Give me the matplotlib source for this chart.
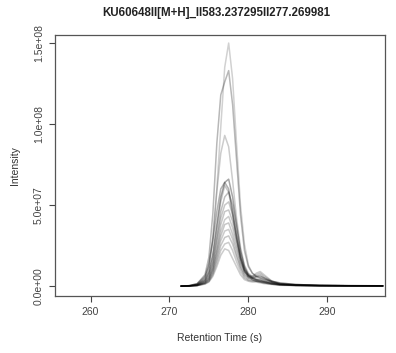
import matplotlib.pyplot as plt
import numpy as np

plt.rcParams['font.family'] = ['Liberation Sans', 'DejaVu Sans']

title = 'KU60648II[M+H]_II583.237295II277.269981'

# retention time grid (s)
rt = [271.5, 272.5, 273.5, 274.5, 275.0, 275.5, 276.0, 276.5, 277.0, 277.5,
      278.0, 278.5, 279.0, 279.5, 280.0, 280.5, 281.0, 281.5, 282.0, 283.0,
      284.0, 286.0, 289.0, 293.0, 297.0]

# intensities of each sample trace, in units of 1e6
traces = [
    [0, 0.2, 1, 5, 12, 30, 60, 98, 135, 150, 128, 88, 50, 26, 13, 8, 6, 6, 5, 3, 2, 1, 0.5, 0.3, 0.2],
    [0, 0.3, 1.5, 7, 18, 45, 88, 118, 126, 133, 112, 78, 44, 22, 12, 8, 6, 5, 4, 3, 2, 1, 0.5, 0.3, 0.2],
    [0, 0.2, 1, 5, 12, 30, 58, 82, 93, 86, 65, 42, 24, 13, 8, 6, 5, 5, 4, 2.5, 1.5, 1, 0.5, 0.3, 0.2],
    [0, 0.2, 1, 4, 9, 20, 38, 55, 64, 66, 55, 38, 22, 12, 7, 5, 4, 4, 3, 2, 1.2, 0.8, 0.4, 0.2, 0.2],
    [0, 0.3, 1.5, 6, 14, 28, 46, 60, 64, 60, 46, 30, 17, 9, 6, 4, 3, 2.5, 2, 1.2, 0.8, 0.4, 0.2, 0.1, 0.1],
    [0, 0.1, 0.8, 3.5, 8, 18, 35, 52, 62, 58, 44, 30, 18, 10, 7, 6, 7, 8, 6, 3, 1.5, 0.8, 0.4, 0.2, 0.1],
    [0, 0.1, 0.6, 3, 7, 15, 30, 46, 55, 58, 50, 35, 20, 11, 7, 5, 4, 3.5, 3, 2, 1, 0.6, 0.3, 0.2, 0.1],
    [0, 0.1, 0.6, 3, 6, 14, 28, 42, 50, 52, 44, 31, 18, 10, 6, 5, 6, 7, 5, 2.5, 1.2, 0.6, 0.3, 0.2, 0.1],
    [0, 0.1, 0.5, 2.5, 5, 12, 24, 38, 46, 47, 40, 28, 17, 10, 6, 5, 4, 3, 2.5, 1.5, 1, 0.5, 0.3, 0.2, 0.1],
    [0, 0.1, 0.5, 2, 5, 11, 22, 34, 41, 43, 36, 26, 15, 9, 6, 6, 8, 9, 7, 3, 1.5, 0.7, 0.3, 0.2, 0.1],
    [0, 0.1, 0.4, 2, 4, 10, 20, 31, 38, 39, 32, 23, 14, 8, 5, 4, 3.5, 3, 2.5, 1.5, 0.8, 0.5, 0.3, 0.2, 0.1],
    [0, 0.1, 0.4, 2, 4, 9, 18, 28, 34, 35, 29, 20, 12, 7, 5, 5, 6, 6, 5, 2.5, 1.2, 0.5, 0.3, 0.2, 0.1],
    [0, 0.1, 0.3, 1.5, 3, 8, 16, 25, 30, 31, 26, 18, 11, 6, 4, 3.5, 3, 3, 2.5, 1.5, 0.8, 0.4, 0.2, 0.1, 0.1],
    [0, 0.1, 0.3, 1.5, 3, 7, 14, 22, 26, 27, 22, 15, 9, 5, 3.5, 3, 3, 2.5, 2, 1.2, 0.7, 0.4, 0.2, 0.1, 0.1],
    [0, 0.1, 0.3, 1.2, 2.5, 6, 12, 19, 23, 22, 17, 12, 7, 4, 3, 2.5, 2.5, 2, 1.5, 1, 0.5, 0.3, 0.2, 0.1, 0.1],
]
# line opacity per trace
alphas = [0.18, 0.28, 0.2, 0.35, 0.3, 0.22, 0.25, 0.22, 0.22, 0.2, 0.22, 0.2, 0.22, 0.2, 0.2]

yticks = [0, 5e7, 1e8, 1.5e8]
ytick_labels = ['0.0e+00', '5.0e+07', '1.0e+08', '1.5e+08']
xticks = [260, 270, 280, 290]

fig = plt.figure(figsize=(3.96, 3.53), dpi=100)
ax = fig.add_axes([0.139, 0.161, 0.833, 0.740])

for tr, a in zip(traces, alphas):
    ax.plot(rt, np.array(tr) * 1e6, color='black', alpha=a, lw=1.1)

ax.set_xlim(255.5, 297.3)
ax.set_ylim(-6.2e6, 1.55e8)
ax.set_xticks(xticks)
ax.set_xticklabels([str(x) for x in xticks], fontsize=7.5, color='#333333')
ax.set_yticks(yticks)
ax.set_yticklabels(ytick_labels, fontsize=7.5, rotation=90, va='center', color='#333333')
ax.tick_params(direction='out', length=4, width=0.8, colors='#444444', pad=4)
for s in ax.spines.values():
    s.set_color('#555555')
    s.set_linewidth(0.9)

ax.set_xlabel('Retention Time (s)', fontsize=7.5, color='#333333', labelpad=11)
ax.set_ylabel('Intensity', fontsize=7.5, color='#333333', labelpad=10)
fig.text(0.545, 0.963, title, ha='center', va='center', fontsize=8.3, fontweight='bold', color='#222222')

fig.savefig('out.png', dpi=100)
